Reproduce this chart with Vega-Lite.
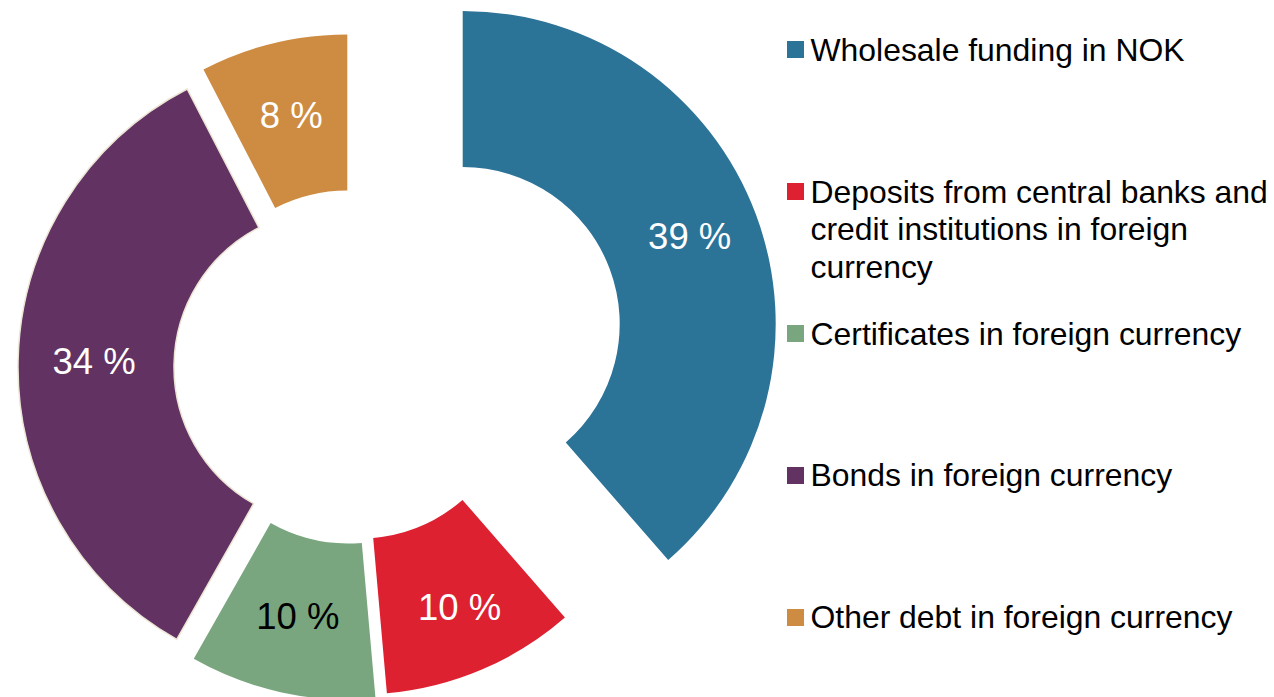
{
  "$schema": "https://vega.github.io/schema/vega-lite/v6.json",
  "padding": 0,
  "background": "white",
  "spacing": 0,
  "config": {"view": {"stroke": null}, "font": "Liberation Sans"},
  "data": {"values": [
    {"cat": "Wholesale funding in NOK", "leg": "Wholesale funding in NOK", "value": 38.6},
    {"cat": "Deposits from central banks and credit institutions in foreign currency", "leg": "Deposits from central banks and\ncredit institutions in foreign\ncurrency", "value": 10.0},
    {"cat": "Certificates in foreign currency", "leg": "Certificates in foreign currency", "value": 9.6},
    {"cat": "Bonds in foreign currency", "leg": "Bonds in foreign currency", "value": 34.2},
    {"cat": "Other debt in foreign currency", "leg": "Other debt in foreign currency", "value": 7.6}
  ]},
  "hconcat": [
    {
      "width": 780,
      "height": 697,
      "transform": [
        {"stack": "value", "groupby": [], "as": ["v0", "v1"]},
        {"calculate": "(datum.v0 + datum.v1) / 2", "as": "mid"},
        {"calculate": "format(datum.value, '.0f') + ' %'", "as": "label"}
      ],
      "layer": [
        {
          "transform": [{"filter": {"field": "cat", "equal": "Wholesale funding in NOK"}}],
          "layer": [
            {"mark": {"type": "arc", "outerRadius": 313, "innerRadius": 157, "xOffset": 72.7, "yOffset": -24.5},
             "encoding": {"theta": {"field": "v0", "type": "quantitative", "scale": {"domain": [0, 100]}}, "theta2": {"field": "v1"},
               "color": {"field": "cat", "type": "nominal", "sort": null, "legend": null, "scale": {"domain": ["Wholesale funding in NOK", "Deposits from central banks and credit institutions in foreign currency", "Certificates in foreign currency", "Bonds in foreign currency", "Other debt in foreign currency"], "range": ["#2C7398", "#DD2130", "#79A67F", "#623263", "#CE8C42"]}}}},
            {"mark": {"type": "text", "radius": 241, "xOffset": 74, "yOffset": -26, "fontSize": 36.5, "color": "white", "baseline": "middle", "align": "center"},
             "encoding": {"theta": {"field": "mid", "type": "quantitative", "scale": {"domain": [0, 100]}}, "text": {"field": "label"}}}
          ]
        },
        {
          "transform": [{"filter": {"field": "cat", "equal": "Deposits from central banks and credit institutions in foreign currency"}}],
          "layer": [
            {"mark": {"type": "arc", "outerRadius": 313, "innerRadius": 157, "xOffset": -30.6, "yOffset": 33},
             "encoding": {"theta": {"field": "v0", "type": "quantitative", "scale": {"domain": [0, 100]}}, "theta2": {"field": "v1"},
               "color": {"field": "cat", "type": "nominal", "sort": null, "legend": null}}},
            {"mark": {"type": "text", "radius": 244, "xOffset": -26, "yOffset": 36, "fontSize": 36.5, "color": "white", "baseline": "middle", "align": "center"},
             "encoding": {"theta": {"field": "mid", "type": "quantitative", "scale": {"domain": [0, 100]}}, "text": {"field": "label"}}}
          ]
        },
        {
          "transform": [{"filter": {"field": "cat", "equal": "Certificates in foreign currency"}}],
          "layer": [
            {"mark": {"type": "arc", "outerRadius": 313, "innerRadius": 157, "xOffset": -42, "yOffset": 38},
             "encoding": {"theta": {"field": "v0", "type": "quantitative", "scale": {"domain": [0, 100]}}, "theta2": {"field": "v1"},
               "color": {"field": "cat", "type": "nominal", "sort": null, "legend": null}}},
            {"mark": {"type": "text", "radius": 237, "xOffset": -42, "yOffset": 38, "fontSize": 36.5, "color": "black", "baseline": "middle", "align": "center"},
             "encoding": {"theta": {"field": "mid", "type": "quantitative", "scale": {"domain": [0, 100]}}, "text": {"field": "label"}}}
          ]
        },
        {
          "transform": [{"filter": {"field": "cat", "equal": "Bonds in foreign currency"}}],
          "layer": [
            {"mark": {"type": "arc", "outerRadius": 313, "innerRadius": 157, "xOffset": -59, "yOffset": 18.5, "stroke": "#ECE6D6", "strokeWidth": 1.5},
             "encoding": {"theta": {"field": "v0", "type": "quantitative", "scale": {"domain": [0, 100]}}, "theta2": {"field": "v1"},
               "color": {"field": "cat", "type": "nominal", "sort": null, "legend": null}}},
            {"mark": {"type": "text", "radius": 237, "xOffset": -59, "yOffset": 18.5, "fontSize": 36.5, "color": "white", "baseline": "middle", "align": "center"},
             "encoding": {"theta": {"field": "mid", "type": "quantitative", "scale": {"domain": [0, 100]}}, "text": {"field": "label"}}}
          ]
        },
        {
          "transform": [{"filter": {"field": "cat", "equal": "Other debt in foreign currency"}}],
          "layer": [
            {"mark": {"type": "arc", "outerRadius": 313, "innerRadius": 157, "xOffset": -42.7, "yOffset": -1.1},
             "encoding": {"theta": {"field": "v0", "type": "quantitative", "scale": {"domain": [0, 100]}}, "theta2": {"field": "v1"},
               "color": {"field": "cat", "type": "nominal", "sort": null, "legend": null}}},
            {"mark": {"type": "text", "radius": 237, "xOffset": -42.7, "yOffset": -1.1, "fontSize": 36.5, "color": "white", "baseline": "middle", "align": "center"},
             "encoding": {"theta": {"field": "mid", "type": "quantitative", "scale": {"domain": [0, 100]}}, "text": {"field": "label"}}}
          ]
        }
      ]
    },
    {
      "width": 31,
      "height": 667,
      "layer": [
        {"mark": {"type": "point", "shape": "square", "filled": true, "size": 289, "opacity": 1},
         "encoding": {
           "y": {"field": "cat", "type": "nominal", "sort": null, "scale": {"type": "point", "padding": 0.3486}, "axis": null},
           "color": {"field": "cat", "type": "nominal", "sort": null, "legend": null}}},
        {"mark": {"type": "text", "align": "left", "baseline": "top", "dx": 15, "dy": -14, "fontSize": 31.9, "lineBreak": "\n", "lineHeight": 37.5, "color": "black"},
         "encoding": {
           "y": {"field": "cat", "type": "nominal", "sort": null, "scale": {"type": "point", "padding": 0.3486}, "axis": null},
           "text": {"field": "leg"}}}
      ]
    }
  ]
}
